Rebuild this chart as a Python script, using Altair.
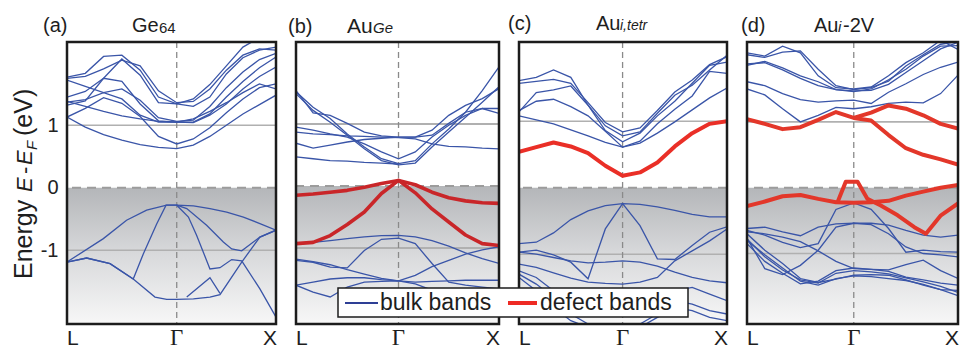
import altair as alt
import pandas as pd

# ---------------- data ----------------
PANELS = ["a", "b", "c", "d"]
K_LABELS = ["L", "Γ", "X"]
GAMMA = {"a": 0.525, "b": 0.505, "c": 0.498, "d": 0.506}
E_TOP = {"a": 2.331, "b": 2.323, "c": 2.191, "d": 2.214}
E_BOT = {"a": -2.181, "b": -2.226, "c": -2.05, "d": -2.071}
GUIDE_E = [1, -1]
FERMI_E = [0]

# panel (a) Ge64 bulk bands, on 13-point grid (L ... Γ ... X)
A_BULK = [
    [1.13, 0.97, 0.85, 0.76, 0.69, 0.645, 0.624, 0.68, 0.82, 1.00, 1.18, 1.33, 1.48],
    [1.13, 1.27, 1.44, 1.35, 1.14, 0.82, 0.70, 0.78, 0.96, 1.20, 1.42, 1.60, 1.66],
    [1.37, 1.41, 1.52, 1.42, 1.16, 1.05, 1.05, 1.04, 1.16, 1.34, 1.58, 1.78, 1.93],
    [1.32, 1.39, 1.75, 1.70, 1.34, 1.07, 1.05, 1.05, 1.18, 1.45, 1.70, 1.92, 2.09],
    [1.45, 1.54, 1.75, 2.06, 1.80, 1.36, 1.34, 1.30, 1.45, 1.82, 2.08, 2.20, 2.25],
    [1.77, 1.83, 2.10, 2.12, 1.88, 1.45, 1.34, 1.42, 1.65, 1.95, 2.25, 2.40, 2.45],
    [1.75, 1.78, 1.90, 2.04, 1.95, 1.55, 1.36, 1.38, 1.58, 1.88, 2.12, 2.22, 2.20],
    [1.72, 1.62, 1.52, 1.58, 1.40, 1.12, 1.06, 1.08, 1.30, 1.60, 1.85, 2.05, 2.15],
    [1.38, 1.30, 1.22, 1.15, 1.10, 1.06, 1.05, 1.10, 1.22, 1.36, 1.52, 1.66, 1.58],
]
# bands with their own k points
A_BULK_K = [
    ([0, 0.174, 0.285, 0.381, 0.477, 0.525, 0.605, 0.684, 0.764, 0.844, 0.923, 1.0],
     [-1.19, -0.815, -0.52, -0.36, -0.28, -0.28, -0.29, -0.335, -0.39, -0.47, -0.575, -0.68]),
    ([0, 0.094, 0.206, 0.317, 0.421, 0.477, 0.525, 0.605, 0.684, 0.732, 0.836, 0.923, 1.0],
     [-1.19, -1.125, -1.215, -1.46, -1.75, -1.786, -1.786, -1.78, -1.75, -1.71, -1.19, -0.79, -0.68]),
    ([0, 0.094, 0.206, 0.317, 0.365, 0.429, 0.474, 0.525, 0.581, 0.620, 0.684, 0.732, 0.788, 0.836, 0.923, 1.0],
     [-1.19, -1.125, -1.215, -1.46, -1.06, -0.58, -0.28, -0.28, -0.47, -0.76, -1.30, -1.28, -1.15, -1.17, -1.62, -2.07]),
    ([0.525, 0.573, 0.668, 0.748, 0.788, 0.836, 0.923, 1.0],
     [-0.28, -0.335, -0.60, -0.87, -0.98, -1.01, -0.79, -0.68]),
    ([0.573, 0.684, 0.732], [-1.75, -1.44, -1.69]),
]

# panel (b) Au_Ge
B_BULK = [
    [1.52, 1.27, 1.09, 0.84, 0.63, 0.44, 0.36, 0.41, 0.68, 0.92, 1.19, 1.54, 1.92],
    [1.49, 1.22, 1.03, 0.82, 0.60, 0.41, 0.34, 0.37, 0.63, 0.87, 1.11, 1.35, 1.60],
    [0.95, 0.90, 0.84, 0.79, 0.68, 0.55, 0.44, 0.55, 0.79, 0.98, 1.14, 1.25, 1.17],
    [1.54, 1.18, 1.14, 1.01, 0.87, 0.81, 0.79, 0.79, 0.90, 1.14, 1.30, 1.41, 1.57],
    [0.87, 0.84, 0.83, 0.81, 0.80, 0.79, 0.78, 0.76, 0.68, 0.64, 0.63, 0.61, 0.60],
    [0.69, 0.61, 0.66, 0.71, 0.75, 0.77, 0.79, 0.79, 0.82, 1.01, 1.19, 1.25, 1.25],
    [-0.93, -0.91, -0.88, -0.85, -0.82, -0.80, -0.795, -0.82, -0.88, -0.97, -1.08, -1.17, -1.25],
    [-1.20, -1.23, -1.31, -1.32, -1.04, -0.86, -0.84, -0.93, -1.25, -1.55, -1.60, -1.63, -1.66],
    [-1.18, -1.22, -1.27, -1.35, -1.42, -1.49, -1.53, -1.44, -1.30, -1.20, -1.10, -1.03, -0.98],
    [-1.60, -1.55, -1.50, -1.48, -1.48, -1.51, -1.53, -1.55, -1.54, -1.53, -1.52, -1.52, -1.52],
    [-1.60, -1.71, -1.79, -1.63, -1.55, -1.54, -1.53, -1.58, -1.68, -1.79, -1.85, -1.90, -1.95],
]
B_BULK_K = [
    ([0, 0.084, 0.168, 0.252, 0.336, 0.421, 0.505],
     [0.47, 0.44, 0.41, 0.40, 0.38, 0.37, 0.355]),
]
B_DEFECT = [
    [-0.15, -0.13, -0.10, -0.07, -0.02, 0.04, 0.09, 0.02, -0.10, -0.19, -0.24, -0.27, -0.28],
    [-0.93, -0.91, -0.80, -0.62, -0.42, -0.12, 0.09, -0.11, -0.37, -0.58, -0.79, -0.93, -0.96],
]

# panel (c) Au_i,tetr
C_BULK = [
    [1.08, 1.02, 0.96, 0.87, 0.78, 0.68, 0.61, 0.67, 0.82, 0.99, 1.17, 1.35, 1.50],
    [1.16, 1.30, 1.33, 1.22, 1.08, 0.85, 0.61, 0.70, 0.96, 1.18, 1.38, 1.75, 1.72],
    [1.14, 1.43, 1.47, 1.53, 1.24, 0.86, 0.69, 0.82, 1.08, 1.30, 1.57, 1.84, 1.89],
    [1.61, 1.66, 1.77, 1.66, 1.24, 0.93, 0.78, 0.84, 1.12, 1.39, 1.54, 1.77, 1.99],
    [1.57, 1.60, 1.63, 1.57, 1.28, 0.98, 0.84, 0.90, 1.16, 1.44, 1.62, 1.85, 1.97],
    [-0.84, -0.82, -0.68, -0.48, -0.35, -0.27, -0.24, -0.25, -0.29, -0.34, -0.40, -0.44, -0.44],
    [-0.97, -0.94, -1.01, -1.12, -1.37, -0.62, -0.24, -0.57, -1.07, -1.08, -0.87, -0.67, -0.59],
    [-0.97, -1.00, -1.05, -1.10, -1.13, -1.12, -1.10, -1.12, -1.18, -1.27, -1.35, -1.40, -1.43],
    [-1.15, -1.20, -1.28, -1.36, -1.42, -1.44, -1.45, -1.42, -1.35, -1.10, -0.95, -0.80, -0.62],
    [-1.25, -1.35, -1.55, -1.75, -1.85, -1.90, -1.92, -1.88, -1.75, -1.55, -1.50, -1.60, -1.70],
    [-1.30, -1.45, -1.65, -1.90, -2.05, -2.10, -2.10, -2.05, -1.90, -1.70, -1.75, -1.85, -1.90],
    [-1.35, -1.55, -1.80, -2.00, -2.10, -2.15, -2.15, -2.10, -1.95, -1.80, -1.85, -1.95, -2.00],
]
C_DEFECT = [
    [0.54, 0.61, 0.68, 0.62, 0.52, 0.33, 0.18, 0.23, 0.38, 0.62, 0.82, 0.96, 1.00],
]

# panel (d) Au_i-2V
D_BULK = [
    [1.50, 1.41, 1.20, 1.00, 1.10, 1.22, 1.20, 1.23, 1.28, 1.30, 1.29, 1.43, 1.71],
    [1.61, 1.55, 1.43, 1.34, 1.30, 1.32, 1.33, 1.28, 1.45, 1.58, 1.72, 1.83, 1.91],
    [1.86, 1.92, 1.82, 1.70, 1.61, 1.49, 1.46, 1.50, 1.64, 1.80, 2.00, 2.15, 2.16],
    [2.05, 2.00, 2.15, 2.05, 1.70, 1.52, 1.50, 1.53, 1.70, 1.90, 2.05, 2.24, 2.10],
    [1.88, 1.90, 1.79, 1.66, 1.55, 1.49, 1.47, 1.48, 1.57, 1.75, 1.93, 2.11, 2.21],
    [2.02, 1.98, 2.06, 2.08, 1.80, 1.55, 1.49, 1.52, 1.62, 1.85, 2.02, 2.18, 2.22],
    [-0.62, -0.60, -0.67, -0.73, -0.60, -0.55, -0.54, -0.54, -0.57, -0.65, -0.72, -0.75, -0.72],
    [-0.65, -0.72, -0.83, -0.91, -0.85, -0.33, -0.23, -0.33, -0.62, -0.98, -0.95, -0.97, -0.98],
    [-0.67, -0.70, -0.75, -0.82, -0.96, -1.12, -1.23, -1.24, -1.25, -1.17, -1.10, -1.26, -1.38],
    [-0.77, -1.23, -1.32, -1.18, -0.95, -0.60, -0.54, -0.56, -0.70, -0.90, -1.00, -1.02, -1.05],
    [-0.80, -1.02, -1.22, -1.42, -1.48, -1.38, -1.34, -1.35, -1.38, -1.41, -1.47, -1.55, -1.64],
    [-0.78, -1.05, -1.25, -1.40, -1.45, -1.30, -1.26, -1.28, -1.31, -1.37, -1.43, -1.50, -1.59],
    [-0.70, -0.95, -1.15, -1.38, -1.44, -1.39, -1.33, -1.32, -1.33, -1.40, -1.48, -1.55, -1.56],
    [-0.85, -1.12, -1.30, -1.46, -1.42, -1.26, -1.22, -1.24, -1.27, -1.36, -1.40, -1.45, -1.48],
]
D_DEFECT = [
    [1.04, 0.97, 0.89, 0.92, 1.03, 1.15, 1.06, 1.14, 1.25, 1.20, 1.10, 0.97, 0.90],
    [-0.28, -0.21, -0.13, -0.11, -0.17, -0.22, -0.23, -0.22, -0.20, -0.12, -0.06, 0.00, 0.04],
]
D_DEFECT_K = [
    ([0.506, 0.588, 0.671, 0.753, 0.835, 0.918, 1.0],
     [1.06, 1.02, 0.80, 0.60, 0.50, 0.43, 0.35]),
    ([0.429, 0.468, 0.524, 0.571, 0.634, 0.714, 0.793, 0.848, 0.919, 1.0],
     [-0.22, 0.09, 0.09, -0.17, -0.27, -0.42, -0.60, -0.70, -0.42, -0.24]),
]

BULK = {"a": (A_BULK, A_BULK_K), "b": (B_BULK, B_BULK_K), "c": (C_BULK, []), "d": (D_BULK, [])}
DEFECT = {"a": ([], []), "b": (B_DEFECT, []), "c": (C_DEFECT, []), "d": (D_DEFECT, D_DEFECT_K)}

# ---------------- layout / style ----------------
W = {"a": 209, "b": 203, "c": 208, "d": 211}
H = 282
BLUE = "#3a55a8"
RED = {"a": "#e8302a", "b": "#c92629", "c": "#ea2f27", "d": "#e3372a"}
FONT = "Liberation Sans"


def grid(g):
    return [g * i / 6 for i in range(7)] + [g + (1 - g) * i / 6 for i in range(1, 7)]


def band_frame(p, spec):
    on_grid, own_k = spec
    rows = []
    ks = grid(GAMMA[p])
    n = 0
    for es in on_grid:
        for k, e in zip(ks, es):
            rows.append({"k": k, "E": e, "band": n})
        n += 1
    for kk, es in own_k:
        for k, e in zip(kk, es):
            rows.append({"k": k, "E": e, "band": n})
        n += 1
    return pd.DataFrame(rows, columns=["k", "E", "band"])


one = pd.DataFrame({"z": [0]})


def text(s, x, y, size, font=FONT, style="normal", align="left", angle=0, baseline="alphabetic"):
    return alt.Chart(pd.DataFrame({"t": [s]})).mark_text(
        font=font, fontSize=size, fontStyle=style, align=align, angle=angle,
        baseline=baseline, color="#1e1e1e"
    ).encode(text="t:N", x=alt.value(x), y=alt.value(y))


Y_AXIS = alt.Axis(values=[-1, 0, 1], ticks=False, domain=False, grid=False, title=None,
                  labelFont=FONT, labelFontSize=20, labelColor="#222222", labelPadding=9,
                  labelExpr="datum.value < 0 ? '-' + (-datum.value) : '' + datum.value")

LBL_Y = H + 21


def panel(p):
    w = W[p]
    xs = alt.Scale(domain=[0, 1], nice=False, zero=False)
    ys = alt.Scale(domain=[E_BOT[p], E_TOP[p]], nice=False, zero=False)
    ax = Y_AXIS if p == "a" else None

    def X(f):
        return alt.X(f"{f}:Q", scale=xs, axis=None)

    def Y(f):
        return alt.Y(f"{f}:Q", scale=ys, axis=ax)

    shade = alt.Chart(pd.DataFrame({"k0": [0], "k1": [1], "e0": [0], "e1": [E_BOT[p]]})).mark_rect(
        color=alt.LinearGradient(gradient="linear", x1=0, x2=0, y1=0, y2=1,
                                 stops=[alt.GradientStop(color="#b4b6b9", offset=0),
                                        alt.GradientStop(color="#d9dadc", offset=0.5),
                                        alt.GradientStop(color="#f7f7f7", offset=1)])
    ).encode(x=X("k0"), x2="k1:Q", y=Y("e0"), y2="e1:Q")

    guides = alt.Chart(pd.DataFrame({"E": GUIDE_E})).mark_rule(
        color="#b0b0b0", strokeWidth=2.2 if p == "b" else 1.6).encode(y=Y("E"))
    fermi = alt.Chart(pd.DataFrame({"E": FERMI_E})).mark_rule(
        color="#9c9c9c", strokeWidth=2, strokeDash=[9, 6]).encode(y=Y("E"))
    gline = alt.Chart(pd.DataFrame({"k": [GAMMA[p]]})).mark_rule(
        color="#8a8a8a", strokeWidth=1.3, strokeDash=[6, 4]).encode(x=X("k"))

    bulk = alt.Chart(band_frame(p, BULK[p])).mark_line(
        clip=True, color=BLUE, strokeWidth=1.3).encode(x=X("k"), y=Y("E"), detail="band:N")
    layers = [shade, guides, fermi, gline, bulk]
    dfd = band_frame(p, DEFECT[p])
    if len(dfd):
        layers.append(alt.Chart(dfd).mark_line(
            clip=True, color=RED[p], strokeWidth=4 if p != "b" else 3.6,
            strokeJoin="round").encode(x=X("k"), y=Y("E"), detail="band:N"))

    frame = alt.Chart(one).mark_rect(fillOpacity=0, stroke="#1c1c1c", strokeWidth=2.5).encode(
        x=alt.value(0), x2=alt.value(w), y=alt.value(0), y2=alt.value(H))
    layers.append(frame)

    # k-point labels
    layers.append(text(K_LABELS[0], 0, LBL_Y, 21))
    layers.append(alt.Chart(pd.DataFrame({"k": [GAMMA[p]], "t": [K_LABELS[1]]})).mark_text(
        font="Liberation Serif", fontSize=23, align="center", baseline="alphabetic",
        color="#1e1e1e").encode(x=X("k"), y=alt.value(LBL_Y), text="t:N"))
    layers.append(text(K_LABELS[2], w + 1, LBL_Y, 21, align="right"))

    # panel titles
    if p == "a":
        layers += [text("(a)", -24, -10, 20), text("Ge", 65, -10, 20), text("64", 92, -9, 15)]
        ty = -35
        layers += [
            text("Energy", ty, 237, 25, angle=270),
            text("E", ty, 150, 22, style="italic", angle=270),
            text("-", ty, 132, 22, angle=270),
            text("E", ty, 123, 22, style="italic", angle=270),
            text("F", ty + 5, 108, 15, style="italic", angle=270),
            text("(eV)", ty, 94, 25, angle=270),
        ]
    elif p == "b":
        layers += [text("(b)", -8, -9, 20), text("Au", 51, -9, 21),
                   text("Ge", 77, -9, 15, style="italic")]
    elif p == "c":
        layers += [text("(c)", -11, -12, 20), text("Au", 77, -12, 20),
                   text("i,tetr", 101, -12, 14, style="italic")]
        # legend (drawn over the neighbouring panel)
        layers += [
            alt.Chart(one).mark_rect(fill="white", stroke="#1c1c1c", strokeWidth=1.5).encode(
                x=alt.value(-181), x2=alt.value(169), y=alt.value(246), y2=alt.value(275)),
            alt.Chart(one).mark_rule(color="#2e3f95", strokeWidth=2).encode(
                x=alt.value(-174), x2=alt.value(-141), y=alt.value(261)),
            text("bulk bands", -139, 261, 23, baseline="middle"),
            alt.Chart(one).mark_rule(color="#ee2a24", strokeWidth=4).encode(
                x=alt.value(-11), x2=alt.value(18), y=alt.value(261)),
            text("defect bands", 21, 261, 23, baseline="middle"),
        ]
    else:
        layers += [text("(d)", -6, -10, 20), text("Au", 67, -10, 20),
                   text("i", 91, -10, 15, style="italic"), text("-2V", 96, -10, 20)]

    return alt.layer(*layers).properties(width=w, height=H)


chart = alt.hconcat(*[panel(p) for p in PANELS], spacing=20, bounds="flush").resolve_scale(
    x="independent", y="independent"
).configure_view(stroke=None).properties(
    padding={"left": 12, "top": 14, "right": 0, "bottom": 0}, background="white"
)

chart.save("out.html", embed_options={"renderer": "svg", "actions": False})
